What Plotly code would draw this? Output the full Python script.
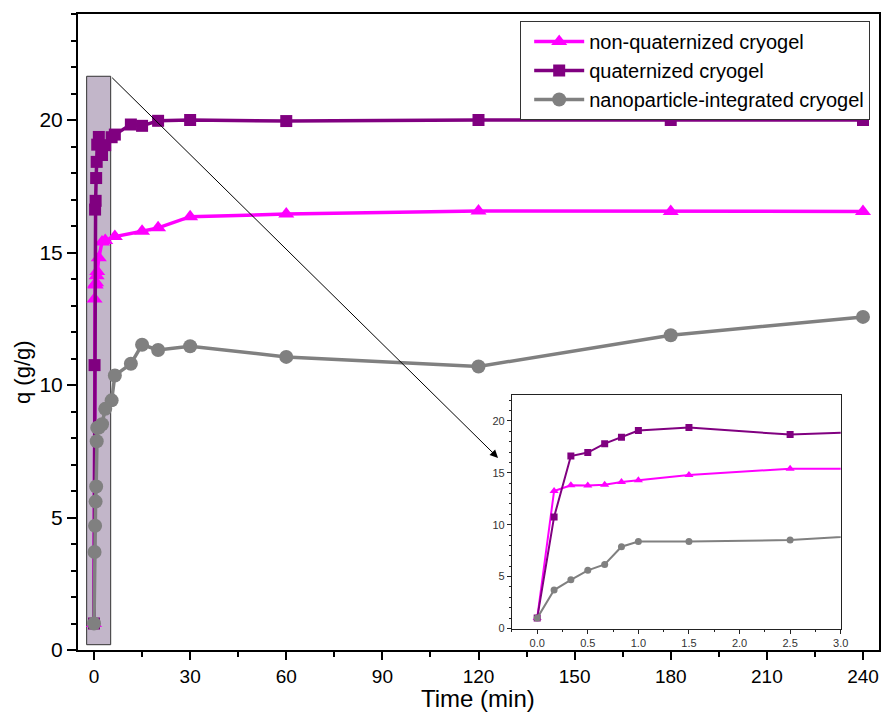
import plotly.graph_objects as go

# ---- data (time in min, q in g/g) ----
t_non = [0, 0.167, 0.333, 0.5, 0.667, 0.833, 1, 1.5, 2.5, 3.5, 6.5, 15, 20, 30, 60, 120, 180, 240]
q_non = [1.0, 13.25, 13.8, 13.77, 13.86, 14.12, 14.28, 14.8, 15.4, 15.45, 15.6, 15.8, 15.93, 16.35, 16.45, 16.57, 16.55, 16.55]

t_quat = [0, 0.167, 0.333, 0.5, 0.667, 0.833, 1, 1.5, 2.5, 3.5, 5.5, 6.5, 11.5, 15, 20, 30, 60, 120, 180, 240]
q_quat = [1.0, 10.75, 16.62, 16.95, 17.81, 18.42, 19.07, 19.36, 18.68, 19.05, 19.35, 19.45, 19.83, 19.78, 19.97, 20.0, 19.96, 20.0, 20.0, 20.0]

t_nano = [0, 0.167, 0.333, 0.5, 0.667, 0.833, 1, 1.5, 2.5, 3.5, 5.5, 6.5, 11.5, 15, 20, 30, 60, 120, 180, 240]
q_nano = [1.0, 3.7, 4.69, 5.6, 6.17, 7.88, 8.39, 8.39, 8.52, 9.1, 9.42, 10.36, 10.8, 11.52, 11.32, 11.46, 11.06, 10.7, 11.88, 12.57]

names = ["non-quaternized cryogel", "quaternized cryogel", "nanoparticle-integrated cryogel"]
colors = ["#FF00FF", "#800080", "#808080"]
symbols = ["triangle-up", "square", "circle"]
series = [(t_non, q_non), (t_quat, q_quat), (t_nano, q_nano)]

FONT = "Liberation Sans, Arial, sans-serif"

fig = go.Figure()

main_msize = [14, 12, 14]
inset_msize = [8, 7, 7]
for (tx, qy), nm, col, sym, ms in zip(series, names, colors, symbols, main_msize):
    fig.add_trace(go.Scatter(
        x=tx, y=qy, name=nm, mode="lines+markers",
        line=dict(color=col, width=3.5),
        marker=dict(symbol=sym, size=ms, color=col),
        xaxis="x", yaxis="y"))

for (tx, qy), nm, col, sym, ms in zip(series, names, colors, symbols, inset_msize):
    fig.add_trace(go.Scatter(
        x=tx, y=qy, name=nm, mode="lines+markers", showlegend=False,
        line=dict(color=col, width=2),
        marker=dict(symbol=sym, size=ms, color=col),
        xaxis="x2", yaxis="y2"))

# zoom rectangle and arrow
fig.add_shape(type="rect", xref="x", yref="y", x0=-2.3, x1=5.2, y0=0.2, y1=21.65,
              fillcolor="#c2b6c9", line=dict(color="#333333", width=1), layer="below")
fig.add_annotation(xref="x", yref="y", axref="x", ayref="y",
                   x=126.1, y=7.25, ax=5.2, ay=21.65, text="",
                   showarrow=True, arrowhead=2, arrowsize=1.6, arrowwidth=1, arrowcolor="black")

# axis titles as annotations
fig.add_annotation(xref="paper", yref="paper", x=0.4994, y=-0.0755, xanchor="center", yanchor="middle",
                   text="Time (min)", showarrow=False, font=dict(family=FONT, size=24, color="black"))
fig.add_annotation(xref="paper", yref="paper", x=-0.07, y=0.437, xanchor="center", yanchor="middle",
                   text="q (g/g)", textangle=-90, showarrow=False, font=dict(family=FONT, size=22, color="black"))

fig.update_layout(
    width=882, height=713,
    margin=dict(l=78, r=3, t=14, b=63, autoexpand=False),
    paper_bgcolor="white", plot_bgcolor="white",
    showlegend=True,
    legend=dict(x=0.989, y=0.989, xanchor="right", yanchor="top",
                bordercolor="#333333", borderwidth=1, bgcolor="white",
                font=dict(family=FONT, size=20, color="black"),
                tracegroupgap=0, itemwidth=50, indentation=8),
    xaxis=dict(domain=[0, 1], range=[-5, 245], tick0=0, dtick=30, automargin=False,
               showline=True, linecolor="black", linewidth=2, mirror=True,
               ticks="outside", ticklen=8, tickwidth=2, tickcolor="black",
               minor=dict(dtick=15, ticks="outside", ticklen=5, tickwidth=2, tickcolor="black"),
               showgrid=False, zeroline=False,
               tickfont=dict(family=FONT, size=19, color="black")),
    yaxis=dict(domain=[0, 1], range=[0, 24], tick0=0, dtick=5, automargin=False,
               showline=True, linecolor="black", linewidth=2, mirror=True,
               ticks="outside", ticklen=9, tickwidth=2, tickcolor="black",
               minor=dict(dtick=1, ticks="outside", ticklen=5, tickwidth=1.5, tickcolor="black"),
               showgrid=False, zeroline=False,
               tickfont=dict(family=FONT, size=21, color="black")),
    xaxis2=dict(domain=[0.5417, 0.9522], anchor="y2", range=[-0.25, 3.0], tick0=0, dtick=0.5,
                tickformat=".1f", showline=True, linecolor="#222222", linewidth=1, mirror=True,
                ticks="outside", ticklen=4, tickwidth=1, tickcolor="#222222",
                minor=dict(dtick=0.25, ticks="outside", ticklen=2, tickcolor="#222222"),
                showgrid=False, zeroline=False,
                tickfont=dict(family=FONT, size=11, color="#333333")),
    yaxis2=dict(domain=[0.0338, 0.401], anchor="x2", range=[0, 22.5], tick0=0, dtick=5,
                showline=True, linecolor="#222222", linewidth=1, mirror=True,
                ticks="outside", ticklen=4, tickwidth=1, tickcolor="#222222",
                minor=dict(dtick=1, ticks="outside", ticklen=2, tickcolor="#222222"),
                showgrid=False, zeroline=False,
                tickfont=dict(family=FONT, size=11, color="#333333")),
)

fig.write_html("out.html")
